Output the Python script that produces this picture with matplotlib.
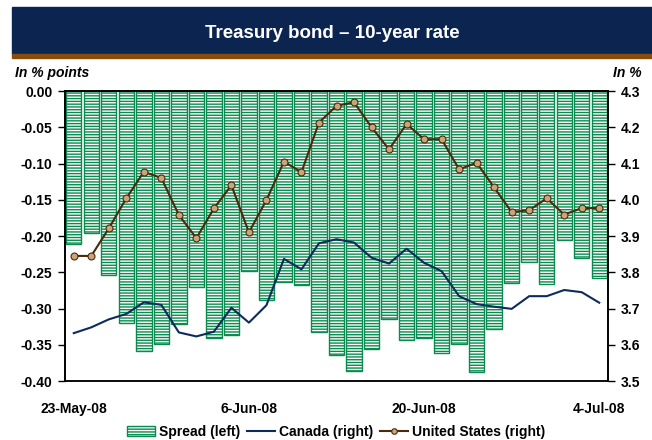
import matplotlib
matplotlib.use("Agg")
import matplotlib.pyplot as plt
from matplotlib.patches import Rectangle, Patch
from matplotlib.lines import Line2D
import numpy as np

plt.rcParams['font.family'] = ['Liberation Sans', 'DejaVu Sans']
plt.rcParams['font.weight'] = 'bold'
plt.rcParams['hatch.linewidth'] = 1.0

dates = ["23-May-08", "26-May-08", "27-May-08", "28-May-08", "29-May-08", "30-May-08",
         "2-Jun-08", "3-Jun-08", "4-Jun-08", "5-Jun-08", "6-Jun-08",
         "9-Jun-08", "10-Jun-08", "11-Jun-08", "12-Jun-08", "13-Jun-08",
         "16-Jun-08", "17-Jun-08", "18-Jun-08", "19-Jun-08", "20-Jun-08",
         "23-Jun-08", "24-Jun-08", "25-Jun-08", "26-Jun-08", "27-Jun-08",
         "30-Jun-08", "1-Jul-08", "2-Jul-08", "3-Jul-08", "4-Jul-08"]

spread = [-0.211, -0.196, -0.254, -0.320, -0.358, -0.349, -0.322, -0.271, -0.340, -0.337,
          -0.248, -0.288, -0.263, -0.267, -0.333, -0.364, -0.386, -0.356, -0.314, -0.343,
          -0.340, -0.362, -0.349, -0.388, -0.328, -0.265, -0.236, -0.266, -0.205, -0.230,
          -0.258]

canada = [3.632, 3.648, 3.670, 3.685, 3.717, 3.710, 3.634, 3.623, 3.636, 3.702,
          3.661, 3.709, 3.837, 3.808, 3.880, 3.891, 3.882, 3.840, 3.824, 3.865,
          3.826, 3.803, 3.734, 3.712, 3.705, 3.699, 3.734, 3.734, 3.751, 3.745,
          3.716]

usa = [3.845, 3.845, 3.921, 4.004, 4.077, 4.060, 3.958, 3.894, 3.976, 4.040,
       3.910, 3.999, 4.105, 4.076, 4.213, 4.259, 4.269, 4.200, 4.139, 4.209,
       4.167, 4.167, 4.084, 4.102, 4.034, 3.966, 3.971, 4.004, 3.959, 3.977,
       3.977]

tick_idx = [0, 10, 20, 30]
left_ticks = [0.00, -0.05, -0.10, -0.15, -0.20, -0.25, -0.30, -0.35, -0.40]
right_ticks = [3.5, 3.6, 3.7, 3.8, 3.9, 4.0, 4.1, 4.2, 4.3]

navy = "#0b2550"
brown_band = "#8a4a0a"
green = "#0a8a4e"
canada_col = "#0d2b5c"
us_line = "#4a2a0c"
us_face = "#c9a57a"

fig = plt.figure(figsize=(6.52, 4.40), dpi=100)

# Banner
fig.patches.append(Rectangle((12/652, 1-54/440), 1-12/652, (54-7.3)/440,
                             transform=fig.transFigure, color=navy, zorder=0))
fig.patches.append(Rectangle((12/652, 1-58/440), 1-12/652, 4/440,
                             transform=fig.transFigure, color=brown_band, zorder=0))
fig.text(332/652, 1-33/440, "Treasury bond \u2013 10-year rate", color="white",
         fontsize=13.5, fontweight="bold", ha="center", va="center")

ax = fig.add_axes([65/652, 1-381/440, (608-65)/652, (381-91)/440])
x = np.arange(len(dates))
ax.bar(x, spread, width=0.88, facecolor="white", edgecolor=green, hatch="------",
       linewidth=1.0, zorder=1)
ax.set_xlim(-0.5, len(dates)-0.5)
ax.set_ylim(-0.40, 0.0)
ax.set_yticks(left_ticks)
ax.set_yticklabels([f"{v:.2f}" for v in left_ticks])
ax.set_xticks(tick_idx)
ax.set_xticklabels([dates[i] for i in tick_idx])
ax.tick_params(axis='x', length=0, pad=15, labelsize=10)
ax.tick_params(axis='y', direction='out', length=5, width=1, pad=4, labelsize=10)

ax2 = ax.twinx()
ax2.plot(x, canada, color=canada_col, linewidth=1.5, zorder=3)
ax2.plot(x, usa, color=us_line, linewidth=1.5, marker='o', markersize=5,
         markerfacecolor=us_face, markeredgecolor=us_line, markeredgewidth=0.8, zorder=4)
ax2.set_ylim(3.5, 4.3)
ax2.set_yticks(right_ticks)
ax2.set_yticklabels([f"{v:.1f}" for v in right_ticks])
ax2.tick_params(axis='y', direction='out', length=5, width=1, pad=4, labelsize=10)

for a in (ax, ax2):
    for s in a.spines.values():
        s.set_color("black")
        s.set_linewidth(1.2)
ax.spines['bottom'].set_color("#444444")

fig.text(15/652, 1-73/440, "In % points", fontsize=10, fontweight="bold",
         fontstyle="italic", ha="left", va="center")
fig.text(642/652, 1-73/440, "In %", fontsize=10, fontweight="bold",
         fontstyle="italic", ha="right", va="center")

handles = [Patch(facecolor="white", edgecolor=green, hatch="------", linewidth=1.0),
           Line2D([], [], color=canada_col, linewidth=1.5),
           Line2D([], [], color=us_line, linewidth=1.5, marker='o', markersize=4,
                  markerfacecolor=us_face, markeredgecolor=us_line, markeredgewidth=0.8)]
labels = ["Spread (left)", "Canada (right)", "United States (right)"]
fig.legend(handles, labels, loc="center", bbox_to_anchor=(336/652, 1-432/440), ncol=3,
           frameon=False, fontsize=10, handlelength=2.0, handletextpad=0.3,
           columnspacing=0.5, borderpad=0)

fig.savefig("out.png", dpi=100)
